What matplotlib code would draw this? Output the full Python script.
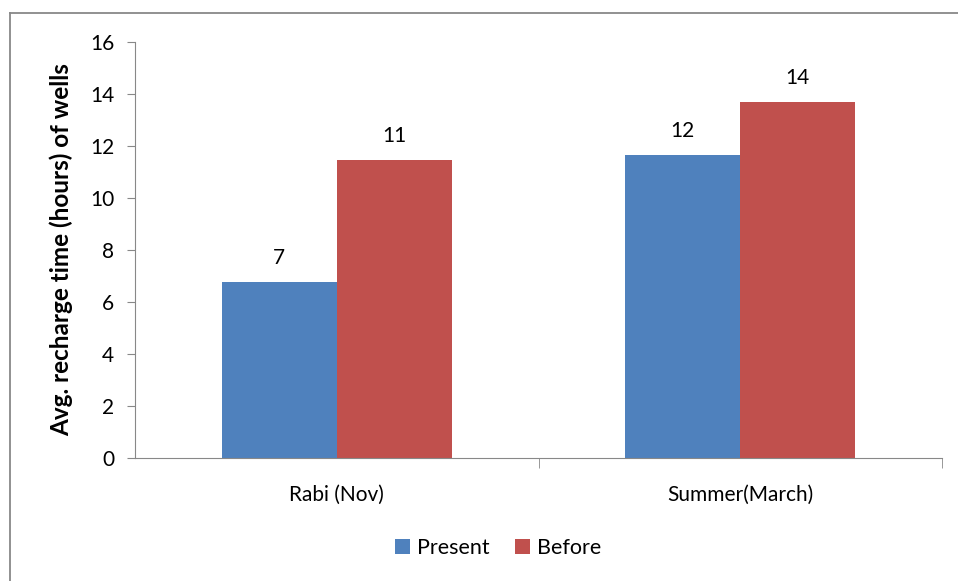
import matplotlib
matplotlib.use("Agg")
import matplotlib.pyplot as plt
from matplotlib.lines import Line2D
import numpy as np

categories = ["Rabi (Nov)", "Summer(March)"]
present = [6.77, 11.65]
before = [11.45, 13.68]
series_names = ["Present", "Before"]
colors = ["#4F81BD", "#C0504D"]

plt.rcParams["font.family"] = ["Lato", "DejaVu Sans"]

fig = plt.figure(figsize=(9.58, 5.81), dpi=100)
ax = fig.add_axes([135 / 958, 1 - 458 / 581, (942 - 135) / 958, (458 - 42) / 581])

# outer chart frame (left and top edges)
fx, fy = 10 / 958, 1 - 13 / 581
fig.add_artist(Line2D([fx, fx], [0, fy], transform=fig.transFigure,
                      color="#888888", linewidth=1.3))
fig.add_artist(Line2D([fx, 1], [fy, fy], transform=fig.transFigure,
                      color="#888888", linewidth=1.3))

x = np.arange(len(categories))
w = 0.285
b1 = ax.bar(x - w / 2, present, w, color=colors[0], label=series_names[0])
b2 = ax.bar(x + w / 2, before, w, color=colors[1], label=series_names[1])

for bars in (b1, b2):
    for r in bars:
        h = r.get_height()
        ax.text(r.get_x() + r.get_width() / 2, h + 0.55, f"{h:.0f}",
                ha="center", va="bottom", fontsize=15, color="black")

ax.set_xlim(-0.5, 1.5)
ax.set_ylim(0, 16)
ax.set_yticks(range(0, 17, 2))
ax.tick_params(axis="y", labelsize=15, length=6, color="#888888", pad=9)

ax.set_xticks(x)
ax.set_xticklabels(categories, fontsize=15)
ax.tick_params(axis="x", length=0, pad=19)
ax.set_xticks([0.5, 1.5], minor=True)
ax.tick_params(axis="x", which="minor", length=7, color="#888888")

for s in ("top", "right"):
    ax.spines[s].set_visible(False)
for s in ("left", "bottom"):
    ax.spines[s].set_color("#888888")

ax.set_ylabel("Avg. recharge time (hours) of wells", fontsize=17.5,
              fontweight="bold")
ax.yaxis.set_label_coords(-(135 - 73) / 807, 0.5)

fig.legend(loc="center", bbox_to_anchor=(498 / 958, 1 - 548 / 581), ncol=2,
           frameon=False, fontsize=15.5, handlelength=0.7, handleheight=0.7,
           handletextpad=0.3, columnspacing=1.2)

fig.savefig("out.png", dpi=100)
